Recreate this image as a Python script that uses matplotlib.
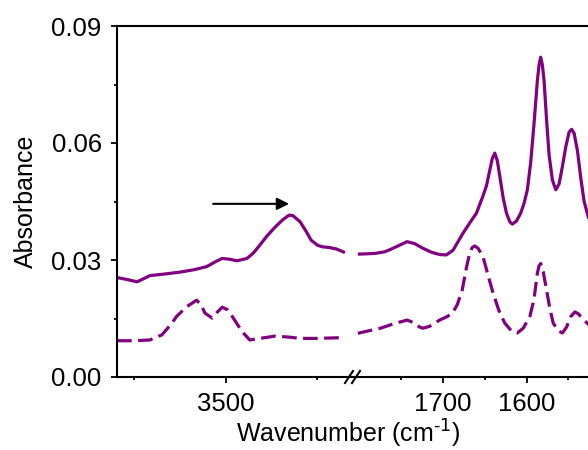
import matplotlib
matplotlib.use("Agg")
import matplotlib.pyplot as plt
from matplotlib.lines import Line2D

plt.rcParams["font.family"] = ["Liberation Sans", "DejaVu Sans"]
plt.rcParams["mathtext.default"] = "regular"

# O-H / N-H stretching region (high wavenumber segment)
wn_high_solid = [3619, 3608, 3597, 3590, 3583, 3567, 3550, 3535, 3521, 3512, 3504,
                 3496, 3488, 3477, 3470, 3463, 3455, 3446, 3438, 3431, 3427, 3419,
                 3412, 3407, 3400, 3395, 3387, 3379, 3370]
abs_high_solid = [0.0255, 0.0250, 0.0244, 0.0252, 0.0260, 0.0264, 0.0269, 0.0275, 0.0283,
                  0.0295, 0.0304, 0.0302, 0.0298, 0.0304, 0.0318, 0.0338, 0.0362, 0.0385,
                  0.0403, 0.0415, 0.0414, 0.0398, 0.0372, 0.0351, 0.0338, 0.0334, 0.0332,
                  0.0328, 0.0319]

wn_high_dash = [3619, 3600, 3583, 3570, 3560, 3554, 3543, 3532, 3527, 3523, 3515,
                3510, 3504, 3498, 3493, 3487, 3481, 3474, 3460, 3446, 3430, 3419,
                3400, 3372]
abs_high_dash = [0.0093, 0.0093, 0.0095, 0.0108, 0.0135, 0.0155, 0.0180, 0.0197, 0.0185,
                 0.0164, 0.0151, 0.0165, 0.0179, 0.0172, 0.0155, 0.0133, 0.0113, 0.0095,
                 0.0100, 0.0105, 0.0102, 0.0099, 0.0099, 0.0101]

# Carbonyl / amide region (low wavenumber segment)
wn_low_solid = [1802, 1790, 1781, 1770, 1763, 1752, 1743, 1734, 1724, 1714, 1704,
                1696, 1688, 1676, 1668, 1660, 1652, 1648, 1644, 1641, 1638, 1635,
                1632, 1628, 1624, 1620, 1617, 1612, 1607, 1603, 1599, 1595, 1591,
                1587, 1585, 1583, 1581, 1579, 1576, 1573, 1569, 1565, 1561, 1557,
                1553, 1549, 1546, 1543, 1539, 1535, 1531, 1526, 1520]
abs_low_solid = [0.0315, 0.0316, 0.0317, 0.0321, 0.0327, 0.0338, 0.0347, 0.0342, 0.0330,
                 0.0320, 0.0314, 0.0313, 0.0325, 0.0369, 0.0395, 0.0420, 0.0465, 0.0490,
                 0.0530, 0.0560, 0.0574, 0.0555, 0.0515, 0.0460, 0.0420, 0.0398, 0.0392,
                 0.0400, 0.0420, 0.0445, 0.0480, 0.0550, 0.0650, 0.0760, 0.0800, 0.0820,
                 0.0800, 0.0760, 0.0660, 0.0570, 0.0505, 0.0480, 0.0495, 0.0540, 0.0590,
                 0.0628, 0.0635, 0.0625, 0.0580, 0.0510, 0.0450, 0.0410, 0.0380]

wn_low_dash = [1802, 1790, 1775, 1757, 1748, 1743, 1736, 1728, 1724, 1716, 1704,
               1695, 1689, 1683, 1677, 1672, 1668, 1665, 1662, 1658, 1652, 1646,
               1640, 1633, 1626, 1618, 1611, 1604, 1596, 1591, 1587, 1585, 1583,
               1580, 1576, 1572, 1568, 1562, 1557, 1552, 1547, 1542, 1538, 1532,
               1526, 1520]
abs_low_dash = [0.0112, 0.0118, 0.0125, 0.0138, 0.0143, 0.0146, 0.0140, 0.0128, 0.0125,
                0.0130, 0.0146, 0.0155, 0.0163, 0.0185, 0.0223, 0.0280, 0.0318, 0.0332,
                0.0336, 0.0330, 0.0308, 0.0260, 0.0215, 0.0170, 0.0138, 0.0118, 0.0113,
                0.0125, 0.0155, 0.0200, 0.0266, 0.0285, 0.0291, 0.0270, 0.0223, 0.0175,
                0.0138, 0.0118, 0.0113, 0.0128, 0.0155, 0.0167, 0.0162, 0.0148, 0.0135,
                0.0125]

y_ticks = [0.00, 0.03, 0.06, 0.09]
y_minor = [0.015, 0.045, 0.075]
x_high_major = [3500]
x_high_minor = [3600, 3400]
x_low_major = [1700, 1600]
x_low_minor = [1750, 1650, 1550]

color = "#800080"
lw = 2.3
dash = (0, (4.6, 2.0))
W, H = 588, 450
fig = plt.figure(figsize=(W / 100, H / 100), dpi=100)

left_px, break_px, right_px = 117, 355, 600
top_px, bot_px = 26, 377
b = 1 - bot_px / H
h = (bot_px - top_px) / H
ax1 = fig.add_axes([left_px / W, b, (break_px - left_px) / W, h])
ax2 = fig.add_axes([break_px / W, b, (right_px - break_px) / W, h])

ax1.plot(wn_high_solid, abs_high_solid, color=color, lw=lw, solid_capstyle="butt")
ax1.plot(wn_high_dash, abs_high_dash, color=color, lw=lw, linestyle=dash)
ax2.plot(wn_low_solid, abs_low_solid, color=color, lw=lw, solid_capstyle="butt")
ax2.plot(wn_low_dash, abs_low_dash, color=color, lw=lw, linestyle=dash)

ax1.set_xlim(3619, 3359)
ax2.set_xlim(1805.4, 1512)
for ax in (ax1, ax2):
    ax.set_ylim(0, 0.09)
    for s in ax.spines.values():
        s.set_linewidth(1.5)
    ax.tick_params(axis="both", which="major", direction="out", length=4,
                   width=1.3, labelsize=18.5, pad=7)
    ax.tick_params(axis="both", which="minor", direction="out", length=2.5, width=1.3)

ax1.spines["right"].set_visible(False)
ax2.spines["left"].set_visible(False)

ax1.set_yticks(y_ticks)
ax1.set_yticks(y_minor, minor=True)
ax1.set_yticklabels([f"{v:.2f}" for v in y_ticks])
ax2.set_yticks([])
ax2.set_yticks([], minor=True)

ax1.set_xticks(x_high_major)
ax1.set_xticks(x_high_minor, minor=True)
ax2.set_xticks(x_low_major)
ax2.set_xticks(x_low_minor, minor=True)

ax1.set_ylabel("Absorbance", fontsize=18, labelpad=10)

fig.text(348 / W, 1 - 434 / H, r"Wavenumber (cm$^{\text{-1}}$)", fontsize=18,
         ha="center", va="center")

# axis break marks on the bottom spine
for cx in (349, 356):
    fig.add_artist(Line2D([(cx - 4) / W, (cx + 4) / W],
                          [1 - 383 / H, 1 - 371 / H],
                          transform=fig.transFigure, color="black", lw=1.5))

ax1.annotate("", xy=(3431, 0.0444), xytext=(3514, 0.0444),
             arrowprops=dict(arrowstyle="-|>", lw=1.5, color="black",
                             mutation_scale=18, shrinkA=0, shrinkB=0))

fig.savefig("out.png", dpi=100)
